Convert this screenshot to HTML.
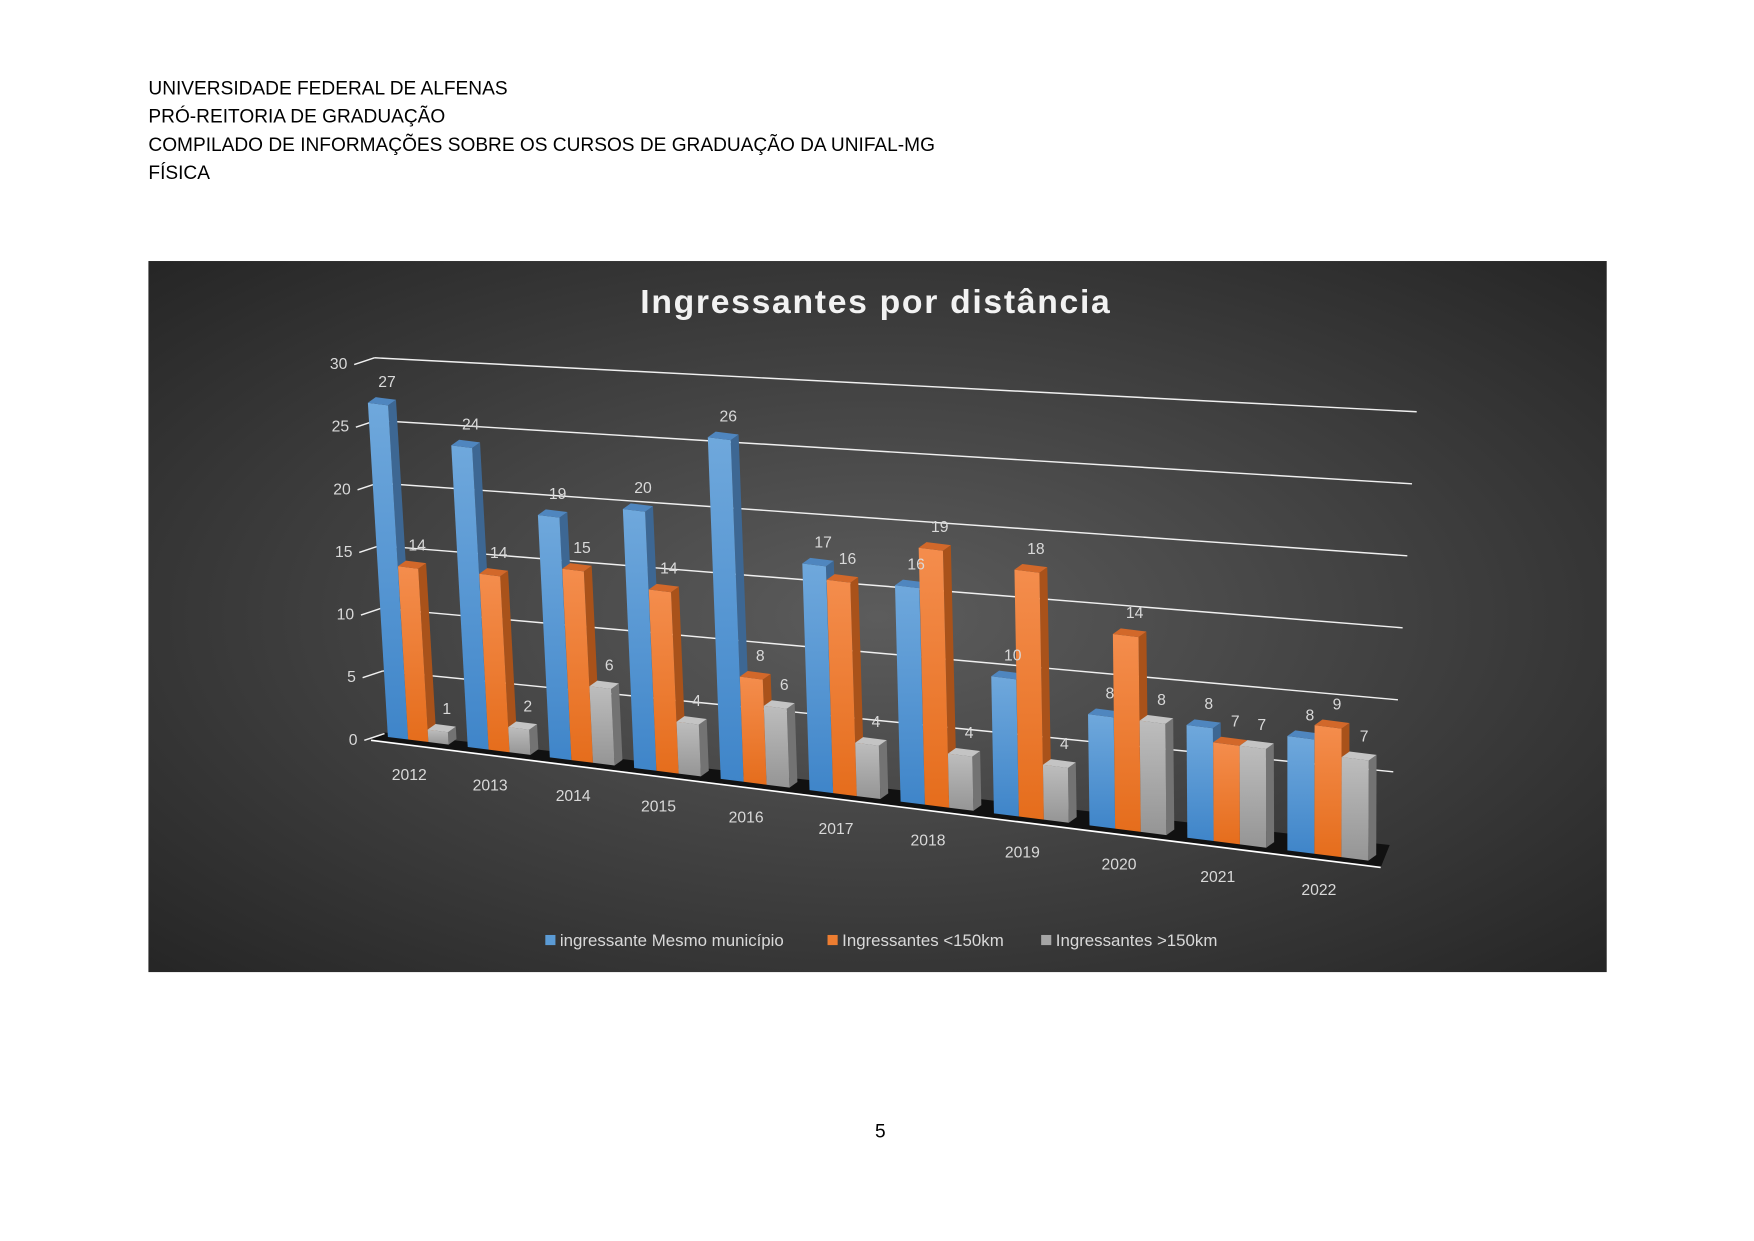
<!DOCTYPE html>
<html><head><meta charset="utf-8"><style>
html,body{margin:0;padding:0;background:#fff;width:1754px;height:1241px;overflow:hidden}
svg{display:block}
text{font-family:"Liberation Sans",sans-serif}
</style></head><body>
<svg id="page" width="1754" height="1241" viewBox="0 0 1560 1103" preserveAspectRatio="none" xmlns="http://www.w3.org/2000/svg">
<defs>
<radialGradient id="bg" cx="0.5" cy="0.5" r="0.7">
<stop offset="0" stop-color="#5c5c5c"/><stop offset="1" stop-color="#262626"/></radialGradient>
<linearGradient id="gb" x1="0" y1="0" x2="0" y2="1"><stop offset="0" stop-color="#6fa8dc"/><stop offset="1" stop-color="#3f85c9"/></linearGradient>
<linearGradient id="go" x1="0" y1="0" x2="0" y2="1"><stop offset="0" stop-color="#f48d4d"/><stop offset="1" stop-color="#e56d1c"/></linearGradient>
<linearGradient id="gg" x1="0" y1="0" x2="0" y2="1"><stop offset="0" stop-color="#bdbdbd"/><stop offset="1" stop-color="#959595"/></linearGradient>
</defs>
<g font-size="17" fill="#000">
<text x="132" y="84">UNIVERSIDADE FEDERAL DE ALFENAS</text>
<text x="132" y="109">PRÓ-REITORIA DE GRADUAÇÃO</text>
<text x="132" y="134">COMPILADO DE INFORMAÇÕES SOBRE OS CURSOS DE GRADUAÇÃO DA UNIFAL-MG</text>
<text x="132" y="159">FÍSICA</text>
</g>
<text x="783" y="1011" font-size="17" text-anchor="middle">5</text>
<rect x="132" y="232" width="1297" height="632" fill="url(#bg)"/>
<text x="779" y="278" font-size="30" font-weight="bold" fill="#f2f2f2" text-anchor="middle" letter-spacing="1.5">Ingressantes por distância</text>
<polygon points="330,657 342,651 1236,751 1228,771" fill="#111"/>
<line x1="330" y1="658" x2="1228" y2="771" stroke="#fff" stroke-width="1.5"/>
<g id="grid"></g>
<g id="bars"></g>
<g id="labels"></g>
<g font-size="15" fill="#d9d9d9">
<rect x="485" y="831" width="9" height="9" fill="#5b9bd5"/>
<text x="498" y="841">ingressante Mesmo município</text>
<rect x="736" y="831" width="9" height="9" fill="#ed7d31"/>
<text x="749" y="841">Ingressantes &lt;150km</text>
<rect x="926" y="831" width="9" height="9" fill="#a5a5a5"/>
<text x="939" y="841">Ingressantes &gt;150km</text>
</g>
</svg>
<script>
const categories = ['2012','2013','2014','2015','2016','2017','2018','2019','2020','2021','2022'];
const mesmoMunicipio = [27,24,19,20,26,17,16,10,8,8,8];
const menos150 = [14,14,15,14,8,16,19,18,14,7,9];
const mais150 = [1,2,6,4,6,4,4,4,8,7,7];
const yTicks = [0,5,10,15,20,25,30];

const NS='http://www.w3.org/2000/svg';
function mk(tag, attrs, parent){const e=document.createElementNS(NS,tag);for(const k in attrs)e.setAttribute(k,attrs[k]);parent.appendChild(e);return e;}
// axis functions
function groupX(i){return 345+70*i+1.0*i*i;}
function barW(i){return 18+0.6*i;}
function scaleY(i){return 11.0+0.17*i;}
function baseY(x){return 655+(x-345)*0.126;}
function lean(x){return -0.06+(x-345)/802*0.06;}
// back-wall gridlines
const grid=document.getElementById('grid');
yTicks.forEach(v=>{
  const ly=652-v*(652-318)/30, lx=333+(30-v)*0.3;
  const ry=750-v*(750-366)/30, rx=1235+v*25/30;
  if(v>0){
    const l=mk('line',{x1:lx,y1:ly,x2:rx,y2:ry,stroke:'#f0f0f0','stroke-width':1.3},grid);
    
    
  }
  const t=mk('line',{x1:lx-18,y1:ly+6,x2:lx,y2:ly,stroke:'#f0f0f0','stroke-width':1.3},grid);
  
  
  const tx=mk('text',{x:lx-24,y:ly+10,'font-size':14,fill:'#d9d9d9','text-anchor':'end'},grid);
  tx.textContent=v;
  
  
});
const bars=document.getElementById('bars'), labels=document.getElementById('labels');
const series=[
 {vals:mesmoMunicipio,name:'mesmo',front:'url(#gb)',side:'#3d6793',top:'#4f86bf'},
 {vals:menos150,name:'lt150',front:'url(#go)',side:'#a9521a',top:'#d2682a'},
 {vals:mais150,name:'gt150',front:'url(#gg)',side:'#737373',top:'#c4c4c4'}];
categories.forEach((c,i)=>{
  const w=barW(i), s=scaleY(i);
  series.forEach((sr,k)=>{
    const xl=groupX(i)+k*w, xr=xl+w, by=baseY(xl)+0, byr=baseY(xr);
    const h=sr.vals[i]*s, L=lean(xl)*h;
    const tl=[xl+L,by-h], tr=[xr+L,byr-h];
    const dx=7, dy=-5;
    const g=mk('g',{},bars);
    
    
    mk('polygon',{points:`${tr[0]},${tr[1]} ${tr[0]+dx},${tr[1]+dy} ${xr+dx},${byr+dy} ${xr},${byr}`,fill:sr.side},g);
    mk('polygon',{points:`${xl},${by} ${xr},${byr} ${tr[0]},${tr[1]} ${tl[0]},${tl[1]}`,fill:sr.front},g);
    mk('polygon',{points:`${tl[0]},${tl[1]} ${tr[0]},${tr[1]} ${tr[0]+dx},${tr[1]+dy} ${tl[0]+dx},${tl[1]+dy}`,fill:sr.top},g);
    const t=mk('text',{x:(tl[0]+tr[0])/2+8,y:tl[1]-14,'font-size':14,fill:'#d9d9d9','text-anchor':'middle'},labels);
    t.textContent=sr.vals[i];
    
    
  });
  const cx=groupX(i)+1.5*w-8;
  const ct=mk('text',{x:cx,y:baseY(cx)+36,'font-size':14,fill:'#d9d9d9','text-anchor':'middle'},labels);
  ct.textContent=c;
  
  
});
</script>
</body></html>
